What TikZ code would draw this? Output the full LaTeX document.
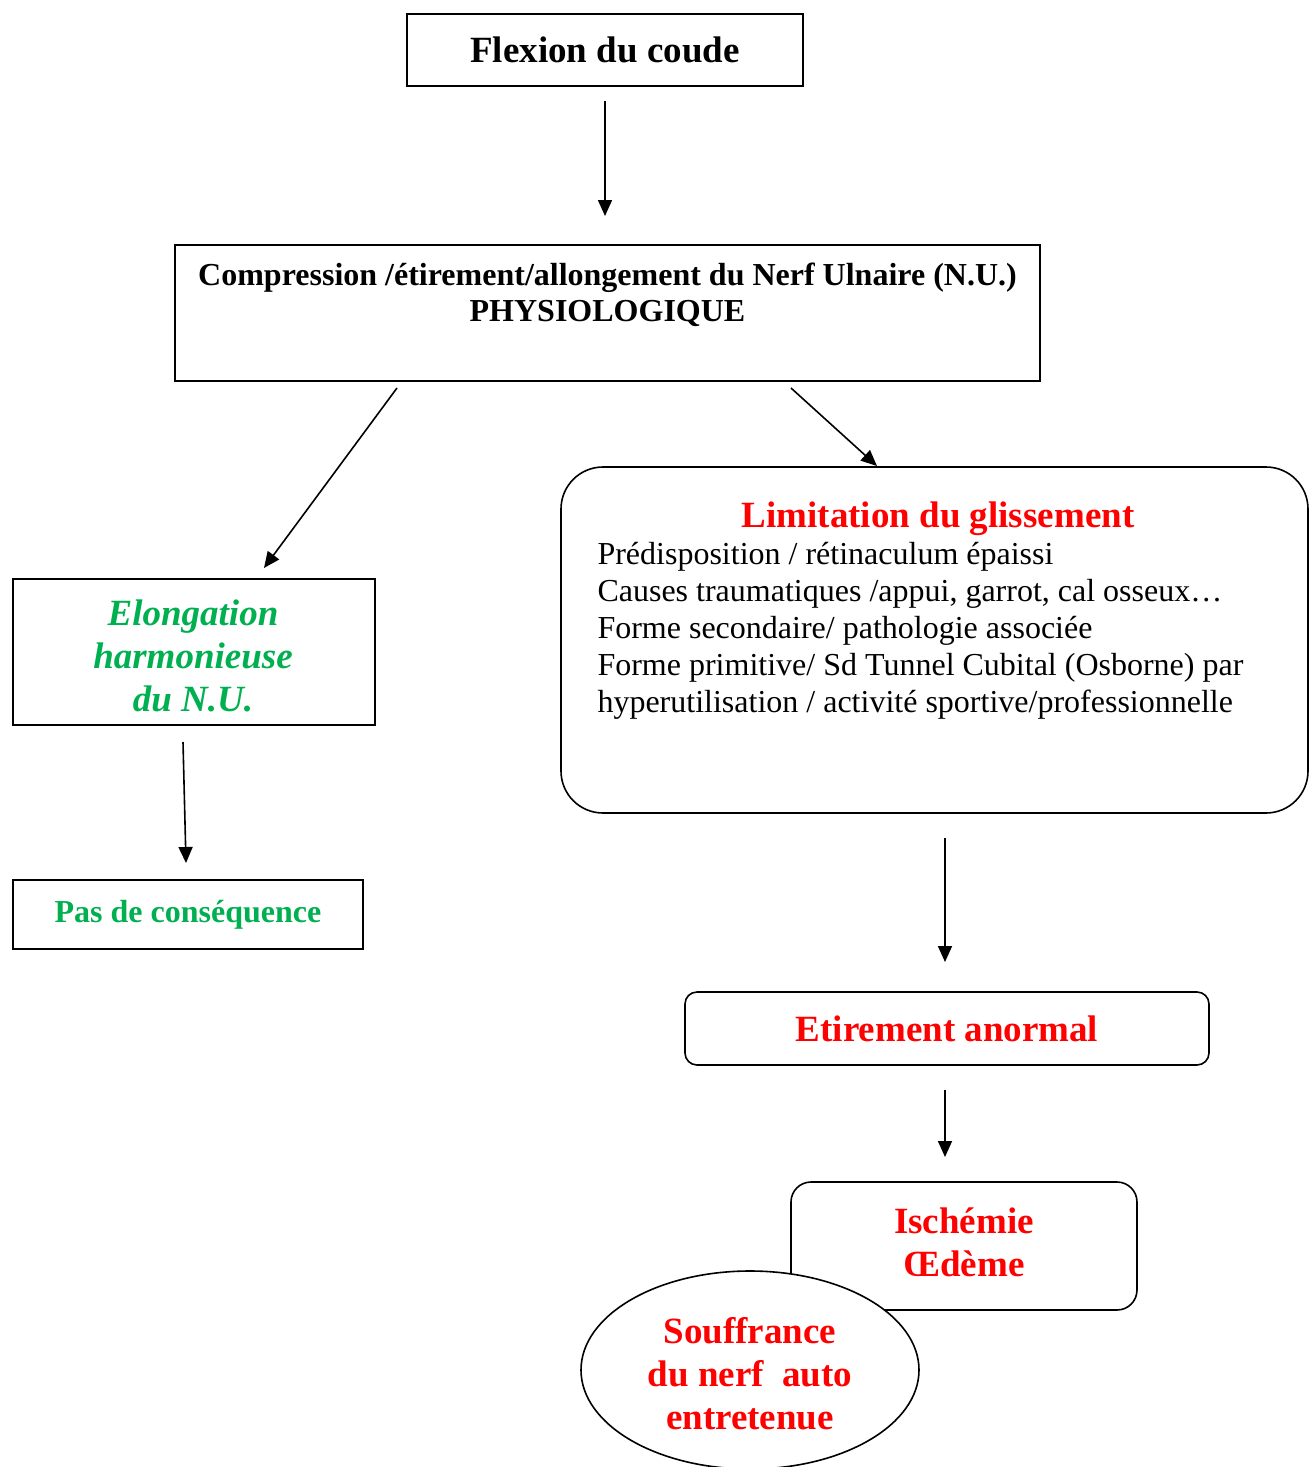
\documentclass[tikz,border=0pt]{standalone}
\usepackage{fontspec}
\setmainfont{Liberation Serif}
\usetikzlibrary{arrows.meta,shapes.geometric}
\definecolor{nred}{RGB}{255,0,0}
\definecolor{ngreen}{RGB}{0,176,80}
\newcommand{\mylines}[2]{\begin{tabular}[t]{@{}#1@{}}#2\end{tabular}}
\tikzset{
  box/.style={draw=black, line width=1.6pt, rectangle, inner sep=0pt},
  rbox/.style={box, rounded corners=#1},
  fbig/.style={font=\fontsize{37}{43}\selectfont\bfseries},
  fmid/.style={font=\fontsize{32}{36}\selectfont\bfseries},
  fbody/.style={font=\fontsize{32}{37}\selectfont},
  arr/.style={line width=1.6pt, -{Triangle[length=16pt,width=14pt]}},
}
\begin{document}
\begin{tikzpicture}[x=1pt,y=-1pt]
\useasboundingbox (0,0) rectangle (1309,1467);
% boxes
\node[box, minimum width=396, minimum height=72, fbig] (flex) at (605,50) {Flexion du coude};
\node[box, minimum width=865, minimum height=136] (comp) at (607.5,313) {};
\node[fmid, anchor=base] (comptxt) at (607.5,285) {\mylines{c}{Compression /étirement/allongement du Nerf Ulnaire (N.U.)\\PHYSIOLOGIQUE}};
\node[box, minimum width=362, minimum height=146] (elong) at (194,652) {};
\node[fbig, font=\fontsize{37}{43}\selectfont\bfseries\itshape, text=ngreen, anchor=base] (elongtxt) at (193,625) {\mylines{c}{Elongation\\harmonieuse\\du N.U.}};
\node[box, minimum width=350, minimum height=69, font=\fontsize{32}{37}\selectfont\bfseries, text=ngreen] (pas) at (188,914.5) {Pas de conséquence};
\node[rbox=42pt, minimum width=747, minimum height=346] (limit) at (934.5,640) {};
\node[fbig, text=nred, anchor=base] (limtitle) at (938,527) {Limitation du glissement};
\node[fbody, anchor=base west] (limbody) at (594,564) {\mylines{l}{Prédisposition / rétinaculum épaissi\\Causes traumatiques /appui, garrot, cal osseux\ldots\\Forme secondaire/ pathologie associée\\Forme primitive/ Sd Tunnel Cubital (Osborne) par\\hyperutilisation / activité sportive/professionnelle}};
\node[rbox=12pt, minimum width=524, minimum height=73, fbig, text=nred] (etir) at (947,1028.5) {Etirement anormal};
\node[rbox=20pt, minimum width=346, minimum height=128] (isch) at (964,1246) {};
\node[fbig, text=nred, anchor=base] (ischtxt) at (964,1233) {\mylines{c}{Ischémie\\Œdème}};
\node[draw=black, line width=1.6pt, fill=white, ellipse, minimum width=338, minimum height=198, inner sep=0pt] (souf) at (750,1370) {};
\node[fbig, text=nred, anchor=base] (souftxt) at (750,1343) {\mylines{c}{Souffrance\\du nerf\ \ auto\\entretenue}};
% arrow end points
\coordinate (a1s) at (605,101); \coordinate (a1e) at (605,216);
\coordinate (a2s) at (397,388); \coordinate (a2e) at (264,568);
\coordinate (a3s) at (791,388); \coordinate (a3e) at (877,466);
\coordinate (a4s) at (183,742); \coordinate (a4e) at (186,863);
\coordinate (a5s) at (945,838); \coordinate (a5e) at (945,962);
\coordinate (a6s) at (945,1090); \coordinate (a6e) at (945,1157);
\draw[arr] (a1s) -- (a1e);
\draw[arr] (a2s) -- (a2e);
\draw[arr] (a3s) -- (a3e);
\draw[arr] (a4s) -- (a4e);
\draw[arr] (a5s) -- (a5e);
\draw[arr] (a6s) -- (a6e);
\end{tikzpicture}
\end{document}
